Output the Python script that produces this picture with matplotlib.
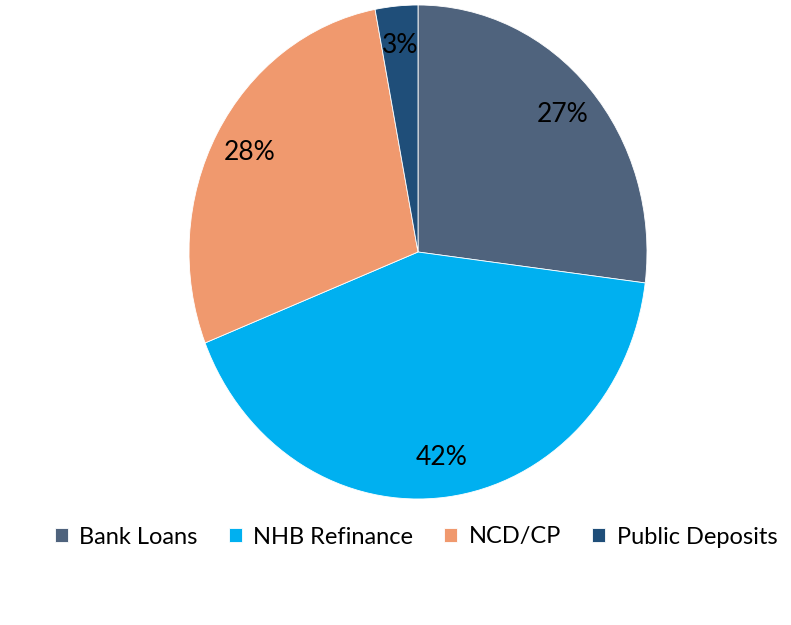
import matplotlib.pyplot as plt

plt.rcParams['font.family'] = ['Lato', 'DejaVu Sans']

labels = ['Bank Loans', 'NHB Refinance', 'NCD/CP', 'Public Deposits']
shares = [27, 42, 28, 3]
colors = ['#4F637D', '#00B0F0', '#F0996E', '#1F4E79']

fig = plt.figure(figsize=(7.91, 6.25), dpi=100)
ax = fig.add_axes([189 / 791, 126 / 625, 458 / 791, 494 / 625])

wedges, texts, autotexts = ax.pie(
    shares, colors=colors, startangle=90, counterclock=False,
    autopct='%d%%', pctdistance=0.84,
    wedgeprops=dict(edgecolor='white', linewidth=0.6),
    textprops=dict(fontsize=19, color='black'))
ax.set_aspect('auto')
ax.set_xlim(-1, 1)
ax.set_ylim(-1, 1)

fig.legend(wedges, labels, loc='center', bbox_to_anchor=(416 / 791, 1 - 537 / 625),
           ncol=4, frameon=False, fontsize=17, handlelength=0.55, handleheight=0.55,
           handletextpad=0.5, columnspacing=1.3, borderpad=0.1)

fig.savefig('out.png', dpi=100)
